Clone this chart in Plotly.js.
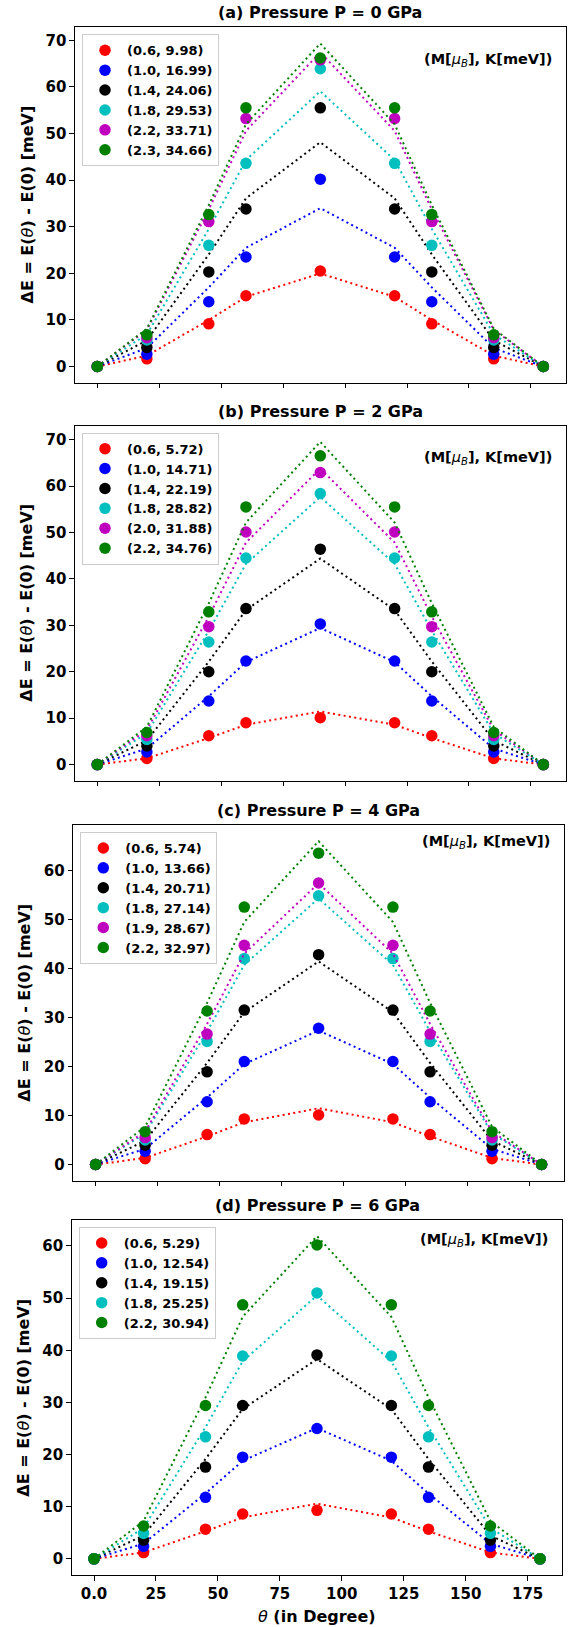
<!DOCTYPE html>
<html>
<head>
<meta charset="utf-8">
<script src="https://cdn.plot.ly/plotly-3.0.1.min.js"></script>
<style>
html,body{margin:0;padding:0;background:#ffffff;}
#chart{width:570px;height:1627px;}
</style>
</head>
<body>
<div id="chart"></div>
<script>
// ---------------- DATA ----------------
const theta = [0, 20, 45, 60, 90, 120, 135, 160, 180];
const xTickVals = [0, 25, 50, 75, 100, 125, 150, 175];
const xTickText = ['0.0', '25', '50', '75', '100', '125', '150', '175'];
const panelTitles = ['(a) Pressure P = 0 GPa', '(b) Pressure P = 2 GPa', '(c) Pressure P = 4 GPa', '(d) Pressure P = 6 GPa'];

// Panel (a) P = 0 GPa
const labelsP0 = ['(0.6, 9.98)', '(1.0, 16.99)', '(1.4, 24.06)', '(1.8, 29.53)', '(2.2, 33.71)', '(2.3, 34.66)'];
const colorsP0 = ['#ff0000', '#0000ff', '#000000', '#00bfbf', '#bf00bf', '#008000'];
const pointsP0 = [
  [0, 1.65, 9.16, 15.2, 20.5, 15.2, 9.16, 1.65, 0],
  [0, 2.65, 13.9, 23.5, 40.2, 23.5, 13.9, 2.65, 0],
  [0, 4.1, 20.3, 33.8, 55.5, 33.8, 20.3, 4.1, 0],
  [0, 5.7, 26.0, 43.6, 63.9, 43.6, 26.0, 5.7, 0],
  [0, 6.2, 31.1, 53.2, 65.8, 53.2, 31.1, 6.2, 0],
  [0, 6.8, 32.6, 55.5, 66.2, 55.5, 32.6, 6.8, 0]
];
const fitsP0 = [
  [0, 2.33, 9.98, 14.97, 19.96, 14.97, 9.98, 2.33, 0],
  [0, 3.97, 16.99, 25.49, 33.98, 25.49, 16.99, 3.97, 0],
  [0, 5.63, 24.06, 36.09, 48.12, 36.09, 24.06, 5.63, 0],
  [0, 6.91, 29.53, 44.30, 59.06, 44.30, 29.53, 6.91, 0],
  [0, 7.89, 33.71, 50.57, 67.42, 50.57, 33.71, 7.89, 0],
  [0, 8.11, 34.66, 51.99, 69.32, 51.99, 34.66, 8.11, 0]
];

// Panel (b) P = 2 GPa
const labelsP2 = ['(0.6, 5.72)', '(1.0, 14.71)', '(1.4, 22.19)', '(1.8, 28.82)', '(2.0, 31.88)', '(2.2, 34.76)'];
const colorsP2 = ['#ff0000', '#0000ff', '#000000', '#00bfbf', '#bf00bf', '#008000'];
const pointsP2 = [
  [0, 1.3, 6.2, 9.0, 10.1, 9.0, 6.2, 1.3, 0],
  [0, 2.7, 13.7, 22.3, 30.3, 22.3, 13.7, 2.7, 0],
  [0, 4.0, 20.0, 33.6, 46.4, 33.6, 20.0, 4.0, 0],
  [0, 5.4, 26.4, 44.5, 58.4, 44.5, 26.4, 5.4, 0],
  [0, 6.2, 29.7, 50.1, 62.9, 50.1, 29.7, 6.2, 0],
  [0, 6.9, 32.9, 55.5, 66.5, 55.5, 32.9, 6.9, 0]
];
const fitsP2 = [
  [0, 1.34, 5.72, 8.58, 11.44, 8.58, 5.72, 1.34, 0],
  [0, 3.44, 14.71, 22.07, 29.42, 22.07, 14.71, 3.44, 0],
  [0, 5.19, 22.19, 33.29, 44.38, 33.29, 22.19, 5.19, 0],
  [0, 6.74, 28.82, 43.23, 57.64, 43.23, 28.82, 6.74, 0],
  [0, 7.46, 31.88, 47.82, 63.76, 47.82, 31.88, 7.46, 0],
  [0, 8.13, 34.76, 52.14, 69.52, 52.14, 34.76, 8.13, 0]
];

// Panel (c) P = 4 GPa
const labelsP4 = ['(0.6, 5.74)', '(1.0, 13.66)', '(1.4, 20.71)', '(1.8, 27.14)', '(1.9, 28.67)', '(2.2, 32.97)'];
const colorsP4 = ['#ff0000', '#0000ff', '#000000', '#00bfbf', '#bf00bf', '#008000'];
const pointsP4 = [
  [0, 1.2, 6.1, 9.3, 10.1, 9.3, 6.1, 1.2, 0],
  [0, 2.7, 12.8, 21.0, 27.8, 21.0, 12.8, 2.7, 0],
  [0, 3.95, 18.9, 31.5, 42.8, 31.5, 18.9, 3.95, 0],
  [0, 5.0, 25.1, 42.0, 54.8, 42.0, 25.1, 5.0, 0],
  [0, 5.5, 26.6, 44.7, 57.4, 44.7, 26.6, 5.5, 0],
  [0, 6.7, 31.3, 52.5, 63.5, 52.5, 31.3, 6.7, 0]
];
const fitsP4 = [
  [0, 1.34, 5.74, 8.61, 11.48, 8.61, 5.74, 1.34, 0],
  [0, 3.20, 13.66, 20.49, 27.32, 20.49, 13.66, 3.20, 0],
  [0, 4.85, 20.71, 31.07, 41.42, 31.07, 20.71, 4.85, 0],
  [0, 6.35, 27.14, 40.71, 54.28, 40.71, 27.14, 6.35, 0],
  [0, 6.71, 28.67, 43.01, 57.34, 43.01, 28.67, 6.71, 0],
  [0, 7.71, 32.97, 49.46, 65.94, 49.46, 32.97, 7.71, 0]
];

// Panel (d) P = 6 GPa
const labelsP6 = ['(0.6, 5.29)', '(1.0, 12.54)', '(1.4, 19.15)', '(1.8, 25.25)', '(2.2, 30.94)'];
const colorsP6 = ['#ff0000', '#0000ff', '#000000', '#00bfbf', '#008000'];
const pointsP6 = [
  [0, 1.2, 5.7, 8.6, 9.3, 8.6, 5.7, 1.2, 0],
  [0, 2.4, 11.8, 19.5, 25.0, 19.5, 11.8, 2.4, 0],
  [0, 3.6, 17.6, 29.4, 39.1, 29.4, 17.6, 3.6, 0],
  [0, 4.9, 23.4, 38.9, 51.0, 38.9, 23.4, 4.9, 0],
  [0, 6.3, 29.4, 48.7, 60.2, 48.7, 29.4, 6.3, 0]
];
const fitsP6 = [
  [0, 1.24, 5.29, 7.94, 10.58, 7.94, 5.29, 1.24, 0],
  [0, 2.93, 12.54, 18.81, 25.08, 18.81, 12.54, 2.93, 0],
  [0, 4.48, 19.15, 28.73, 38.30, 28.73, 19.15, 4.48, 0],
  [0, 5.91, 25.25, 37.88, 50.50, 37.88, 25.25, 5.91, 0],
  [0, 7.24, 30.94, 46.41, 61.88, 46.41, 30.94, 7.24, 0]
];

// ---------------- LAYOUT ----------------
const W = 570, H = 1627;
const FONT = 'DejaVu Sans';
const axW = 490.6;
const panelsData = [
  {labels: labelsP0, colors: colorsP0, points: pointsP0, fits: fitsP0},
  {labels: labelsP2, colors: colorsP2, points: pointsP2, fits: fitsP2},
  {labels: labelsP4, colors: colorsP4, points: pointsP4, fits: fitsP4},
  {labels: labelsP6, colors: colorsP6, points: pointsP6, fits: fitsP6}
];
const boxes = [
  {left: 75.0, top: 27.3, bottom: 382.7, noteOff: 32.7},
  {left: 75.0, top: 425.7, bottom: 780.7, noteOff: 32.6},
  {left: 73.3, top: 825.0, bottom: 1180.7, noteOff: 16.7},
  {left: 71.7, top: 1220.0, bottom: 1575.0, noteOff: 20.0}
];

const traces = [];
const layout = {
  width: W, height: H,
  margin: {l: 0, r: 0, t: 0, b: 0, pad: 0},
  paper_bgcolor: '#ffffff', plot_bgcolor: '#ffffff',
  hovermode: false,
  showlegend: true,
  font: {family: FONT, color: '#000000'},
  annotations: []
};

panelsData.forEach((p, i) => {
  const sfx = i === 0 ? '' : String(i + 1);
  const xa = 'x' + sfx, ya = 'y' + sfx;
  const lg = 'legend' + sfx;
  const b = boxes[i];

  p.points.forEach((pts, k) => {
    traces.push({
      type: 'scatter', mode: 'markers', x: theta, y: pts,
      xaxis: xa, yaxis: ya, legend: lg, name: p.labels[k], showlegend: true,
      marker: {color: p.colors[k], size: 11.5, line: {width: 0}},
      cliponaxis: false
    });
    traces.push({
      type: 'scatter', mode: 'lines', x: theta, y: p.fits[k],
      xaxis: xa, yaxis: ya, showlegend: false,
      line: {color: p.colors[k], width: 2, dash: '2px,3.4px'}
    });
  });

  // autoscale like matplotlib (5% margins)
  let ymax = 0, ymin = 0;
  p.fits.concat(p.points).forEach(arr => arr.forEach(v => { if (v > ymax) ymax = v; if (v < ymin) ymin = v; }));
  const span = ymax - ymin;
  const yr = [ymin - 0.05 * span, ymax + 0.05 * span];

  layout['xaxis' + sfx] = {
    domain: [b.left / W, (b.left + axW) / W],
    anchor: ya, range: [-9, 189],
    showgrid: false, zeroline: false,
    showline: true, mirror: true, linecolor: '#000000', linewidth: 1.1,
    ticks: 'outside', ticklen: 4.5, tickwidth: 1, tickcolor: '#000000',
    tickvals: xTickVals, ticktext: xTickText,
    showticklabels: i === 3,
    tickfont: {family: FONT, size: 15, weight: 'bold', color: '#000000'}
  };
  layout['yaxis' + sfx] = {
    domain: [1 - b.bottom / H, 1 - b.top / H],
    anchor: xa, range: yr,
    showgrid: false, zeroline: false,
    showline: true, mirror: true, linecolor: '#000000', linewidth: 1.1,
    ticks: 'outside', ticklen: 4.5, tickwidth: 1, tickcolor: '#000000',
    tick0: 0, dtick: 10,
    tickfont: {family: FONT, size: 15, weight: 'bold', color: '#000000'}
  };
  layout[lg] = {
    x: (b.left + 7) / W, y: 1 - (b.top + 7) / H,
    xanchor: 'left', yanchor: 'top',
    bgcolor: 'rgba(255,255,255,0.8)', bordercolor: '#cccccc', borderwidth: 1,
    font: {family: FONT, size: 13, weight: 'bold', color: '#000000'},
    itemwidth: 34, tracegroupgap: 0
  };

  // panel title
  layout.annotations.push({
    xref: xa + ' domain', yref: ya + ' domain', x: 0.5, y: 1, yshift: 14.5,
    xanchor: 'center', yanchor: 'middle', showarrow: false,
    text: panelTitles[i],
    font: {family: FONT, size: 16, weight: 'bold', color: '#000000'}
  });
  // y-axis title
  layout.annotations.push({
    xref: xa + ' domain', yref: ya + ' domain', x: 0, xshift: -48.5, y: 0.5,
    xanchor: 'center', yanchor: 'middle', showarrow: false, textangle: -90,
    text: 'ΔE = E(<span style="font-weight:normal;font-style:italic">θ</span>) - E(0) [meV]',
    font: {family: FONT, size: 16, weight: 'bold', color: '#000000'}
  });
  // units note
  layout.annotations.push({
    xref: xa + ' domain', yref: ya + ' domain', x: 1, xshift: -12, y: 1, yshift: -b.noteOff,
    xanchor: 'right', yanchor: 'middle', showarrow: false,
    text: '(M[<span style="font-weight:normal;font-style:italic">μ<sub>B</sub></span>], K[meV])',
    font: {family: FONT, size: 14.5, weight: 'bold', color: '#000000'}
  });
});

// x-axis title on bottom panel
layout.annotations.push({
  xref: 'x4 domain', yref: 'y4 domain', x: 0.5, y: 0, yshift: -41,
  xanchor: 'center', yanchor: 'middle', showarrow: false,
  text: '<span style="font-weight:normal;font-style:italic">θ</span> (in Degree)',
  font: {family: FONT, size: 16, weight: 'bold', color: '#000000'}
});

Plotly.newPlot('chart', traces, layout, {displayModeBar: false, staticPlot: true});
</script>
</body>
</html>
